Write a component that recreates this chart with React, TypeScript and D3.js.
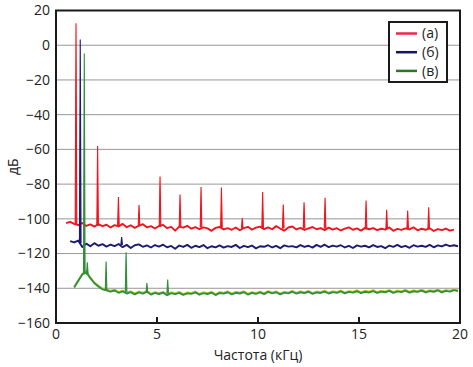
import * as d3 from 'd3';

const redStart = 0.5;
const redNoise = [
  -102.5, -101.8, -102.9, -103.6, -102.4, -104.1, -103.2, -104.5, -103.0, -104.2,
  -103.4, -105.0, -103.6, -104.4, -102.9, -104.8, -103.7, -105.2, -104.0, -103.1,
  -104.9, -104.2, -105.6, -104.1, -103.5, -105.3, -104.6, -106.8, -104.5, -105.1,
  -104.0, -105.7, -104.8, -106.0, -104.9, -105.5, -106.9, -105.2, -104.7, -106.1,
  -105.4, -106.3, -105.0, -106.6, -105.3, -104.6, -106.2, -105.1, -104.5, -105.9,
  -104.9, -106.0, -104.2, -105.6, -106.8, -105.0, -104.4, -106.1, -105.2, -106.4,
  -105.5, -104.7, -106.0, -105.3, -106.5, -105.1, -106.2, -105.4, -106.7, -105.6,
  -104.9, -106.3, -105.5, -106.8, -105.2, -106.0, -105.3, -106.5, -105.7, -106.2,
  -105.0, -106.9, -105.8, -106.4, -105.5, -106.1, -104.9, -106.6, -105.7, -106.3,
  -105.4, -107.0, -105.9, -106.5, -105.6, -106.8, -106.2,
];

const blueStart = 0.7;
const blueNoise = [
  -112.8, -113.6, -112.5, -116.2, -114.3, -115.8, -114.0, -115.5, -114.6, -116.0,
  -114.8, -115.7, -114.5, -116.3, -115.0, -116.8, -115.2, -114.7, -116.1, -115.3,
  -116.5, -115.1, -116.0, -114.9, -116.4, -115.6, -117.2, -115.4, -116.2, -115.0,
  -116.7, -115.5, -116.3, -115.1, -116.9, -115.8, -116.4, -115.3, -116.6, -115.7,
  -116.2, -115.0, -116.8, -115.6, -116.3, -115.4, -117.0, -115.8, -116.1, -115.2,
  -116.5, -115.6, -116.9, -115.3, -116.0, -115.7, -116.4, -115.1, -116.2, -115.5,
  -116.6, -115.0, -116.1, -114.9, -116.3, -115.4, -116.0, -115.2, -116.5, -115.6,
  -116.8, -115.3, -116.0, -115.5, -116.4, -115.1, -116.2, -115.7, -116.9, -115.4,
  -116.1, -115.0, -116.3, -115.6, -116.7, -115.2, -116.0, -115.5, -116.2, -115.0,
  -116.4, -115.3, -115.9, -114.8, -115.7, -115.2, -115.8,
];

const greenStart = 0.9;
const greenNoise = [
  -139.5, -135.8, -132.0, -130.8, -134.2, -137.1, -139.0, -140.6, -141.2, -141.9,
  -141.3, -142.6, -141.8, -143.0, -142.2, -143.5, -142.4, -143.1, -142.0, -143.6,
  -142.7, -143.3, -142.5, -144.0, -142.8, -143.4, -142.6, -143.8, -142.9, -143.2,
  -142.4, -143.7, -142.8, -143.3, -142.5, -143.9, -142.7, -143.1, -142.3, -143.5,
  -142.6, -143.0, -142.2, -143.6, -142.7, -143.2, -142.4, -143.4, -142.1, -142.9,
  -142.3, -143.5, -142.5, -142.9, -142.0, -143.1, -142.3, -142.8, -142.0, -143.2,
  -142.4, -142.7, -141.9, -143.0, -142.2, -142.6, -141.8, -142.9, -142.1, -142.5,
  -141.7, -142.8, -142.0, -142.4, -141.6, -142.7, -141.9, -142.3, -141.5, -142.6,
  -141.8, -142.2, -141.4, -142.5, -141.7, -142.1, -141.3, -142.4, -141.6, -142.0,
  -141.2, -142.3, -141.5, -141.9, -141.1, -141.6,
];
const step = 0.2;

// Spikes: [frequency kHz, top dB, base dB]
const redPeaks: [number, number, number][] = [
  [0.99, 12.7, -103], [2.06, -58, -104], [3.09, -87.5, -104], [4.11, -92, -104],
  [5.15, -75.6, -104.5], [6.14, -86, -104.5], [7.18, -81.7, -105], [8.19, -82, -105],
  [9.22, -99.6, -105.5], [10.23, -84.6, -105.5], [11.25, -91.7, -105.5], [12.28, -90.4, -105.5],
  [13.32, -87.9, -105.5], [15.35, -89.4, -106], [16.37, -94.8, -106], [17.41, -95.2, -106],
  [18.45, -93.3, -106],
];
const bluePeaks: [number, number, number][] = [
  [1.2, 3.3, -114], [3.25, -110.5, -115],
];
const greenPeaks: [number, number, number][] = [
  [1.4, -4.8, -131], [1.55, -125, -132], [2.48, -124.6, -141],
  [3.47, -119.3, -142], [4.5, -137, -142.5], [5.53, -135, -143],
];

const yTicks = [20, 0, -20, -40, -60, -80, -100, -120, -140, -160];
const xTicks = [0, 5, 10, 15, 20];
const legendLabels = ['(а)', '(б)', '(в)'];

const W = 473;
const H = 367;
const margin = { top: 10.5, right: 13, bottom: 44, left: 56 };
const font = "'Open Sans', 'Noto Sans', sans-serif";

const App = () => {
  const x = d3.scaleLinear().domain([0, 20]).range([margin.left, W - margin.right]);
  const y = d3.scaleLinear().domain([-160, 20]).range([H - margin.bottom, margin.top]);

  const toPts = (start: number, vals: number[]) =>
    vals.map((v, i) => [start + i * step, v] as [number, number]);
  const line = d3.line<[number, number]>().x((d) => x(d[0])).y((d) => y(d[1]));

  const spike = (p: [number, number, number]) =>
    `M${x(p[0]) - 0.8},${y(p[2])}L${x(p[0])},${y(p[1])}L${x(p[0]) + 0.8},${y(p[2])}`;

  const series = [
    { pts: toPts(redStart, redNoise), peaks: redPeaks, color: '#f0141e' },
    { pts: toPts(blueStart, blueNoise), peaks: bluePeaks, color: '#1c1a72' },
    { pts: toPts(greenStart, greenNoise), peaks: greenPeaks, color: '#2f8f3a' },
  ];
  const legendColors = ['#f2234f', '#16165e', '#2b7a1f'];

  const x0 = x(0);
  const x1 = x(20);
  const yB = y(-160);
  const yT = y(20);

  return (
    <svg width={W} height={H} style={{ position: 'absolute', left: 0, top: 0, background: '#fff' }}>
      {/* grid */}
      {yTicks.slice(1, -1).map((t) => (
        <line key={t} x1={x0} x2={x1} y1={y(t)} y2={y(t)} stroke="#8c8c8c" strokeWidth={0.9} />
      ))}
      {/* yellow fringe above green trace */}
      <path
        d={line(series[2].pts) || ''}
        fill="none"
        stroke="#c9cf3a"
        strokeWidth={1.4}
        transform="translate(0,-1.2)"
      />
      {series.map((s, i) => (
        <g key={i}>
          <path d={line(s.pts) || ''} fill="none" stroke={s.color} strokeWidth={1.9} strokeLinejoin="round" />
          {s.peaks.map((p, j) => (
            <path key={j} d={spike(p)} fill={s.color} stroke={s.color} strokeWidth={1.1} />
          ))}
        </g>
      ))}
      {/* frame */}
      <rect x={x0} y={yT} width={x1 - x0} height={yB - yT} fill="none" stroke="#1a1a1a" strokeWidth={2} />
      {xTicks.slice(1, -1).map((t) => (
        <line key={t} x1={x(t)} x2={x(t)} y1={yB} y2={yB - 6} stroke="#1a1a1a" strokeWidth={2} />
      ))}
      {/* tick labels */}
      {yTicks.map((t) => (
        <text key={t} x={x0 - 6} y={y(t)} dy="0.35em" textAnchor="end" fontFamily={font} fontSize={14} fill="#222">
          {t < 0 ? `\u2212${-t}` : t}
        </text>
      ))}
      {xTicks.map((t) => (
        <text key={t} x={x(t)} y={yB + 16} textAnchor="middle" fontFamily={font} fontSize={14} fill="#222">
          {t}
        </text>
      ))}
      <text x={(x0 + x1) / 2} y={360} textAnchor="middle" fontFamily={font} fontSize={14} fill="#222">
        Частота (кГц)
      </text>
      <text
        transform={`translate(18,${(yT + yB) / 2}) rotate(-90)`}
        textAnchor="middle"
        fontFamily={font}
        fontSize={14}
        fill="#222"
      >
        дБ
      </text>
      {/* legend */}
      <rect x={389} y={22} width={58} height={60} fill="#fff" stroke="#1a1a1a" strokeWidth={2} />
      {legendLabels.map((l, i) => (
        <g key={l} transform={`translate(396,${33.5 + i * 18.7})`}>
          <line x1={0} x2={21} y1={0} y2={0} stroke={legendColors[i]} strokeWidth={2.5} />
          <text x={26} y={0} dy="0.35em" fontFamily={font} fontSize={14} fill="#222">
            {l}
          </text>
        </g>
      ))}
    </svg>
  );
};

export default App;
